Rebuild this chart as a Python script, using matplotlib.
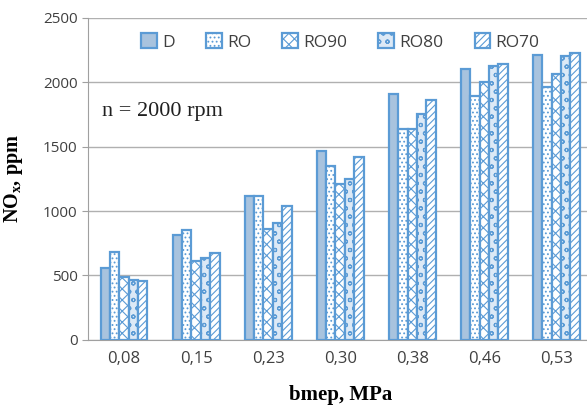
import matplotlib
matplotlib.use("Agg")
import matplotlib.pyplot as plt
import numpy as np

categories = ["0,08", "0,15", "0,23", "0,30", "0,38", "0,46", "0,53"]
series_names = ["D", "RO", "RO90", "RO80", "RO70"]
D    = [557, 813, 1118, 1467, 1908, 2106, 2213]
RO   = [681, 852, 1118, 1351, 1636, 1897, 1962]
RO90 = [491, 616, 864, 1211, 1636, 2003, 2068]
RO80 = [466, 637, 908, 1248, 1757, 2127, 2207]
RO70 = [456, 673, 1043, 1418, 1863, 2143, 2230]
values = [D, RO, RO90, RO80, RO70]

plt.rcParams['hatch.linewidth'] = 0.8
plt.rcParams['hatch.color'] = '#5b9bd5'

fig = plt.figure(figsize=(5.87, 4.08), dpi=100)
ax = fig.add_axes([0.150, 0.167, 0.859, 0.789])

edge = '#5b9bd5'
faces = ['#a8c3de', 'white', 'white', '#dce9f6', 'white']
hatches = [None, '....', 'xxx', 'oo', '/////']

x = np.arange(len(categories))
w = 0.13
for i, (name, vals) in enumerate(zip(series_names, values)):
    ax.bar(x + (i - 2) * w, vals, width=w, facecolor=faces[i], edgecolor=edge,
           linewidth=1.6, hatch=hatches[i], label=name, zorder=3)

ax.set_xlim(-0.5, len(categories) - 0.5)
ax.set_ylim(0, 2500)
ax.set_yticks(range(0, 2501, 500))
ax.set_xticks(x)
ax.set_xticklabels(categories)
ax.grid(axis='y', color='#b0b0b0', linewidth=1.0, zorder=0)
for s in ['top', 'right']:
    ax.spines[s].set_visible(False)
ax.spines['left'].set_color('#a0a0a0')
ax.spines['bottom'].set_color('#a0a0a0')
ax.tick_params(axis='y', length=4, color='#a0a0a0', labelsize=11, labelcolor='#404040')
ax.tick_params(axis='x', length=0, labelsize=12, labelcolor='#404040', pad=8)
for lab in ax.get_xticklabels() + ax.get_yticklabels():
    lab.set_family('Open Sans')

ax.set_ylabel(r'NO$_\mathregular{x}$, ppm', family='Liberation Serif', fontweight='bold',
              fontsize=14.5)
ax.yaxis.set_label_coords(-0.125, 0.5)
ax.set_xlabel('bmep, MPa', family='Liberation Serif', fontweight='bold', fontsize=15)
ax.xaxis.set_label_coords(0.5, -0.14)

ax.text(-0.30, 1700, 'n = 2000 rpm', family='Liberation Serif', fontsize=16,
        color='#202020', va='bottom', ha='left')

leg = fig.legend(loc='center', bbox_to_anchor=(0.58, 0.897), ncol=5, frameon=False,
                 prop={'family': 'Open Sans', 'size': 12.5}, handlelength=0.9, handleheight=0.9,
                 columnspacing=1.8, handletextpad=0.3)
for t in leg.get_texts():
    t.set_color('#404040')

fig.savefig('out.png', dpi=100)
